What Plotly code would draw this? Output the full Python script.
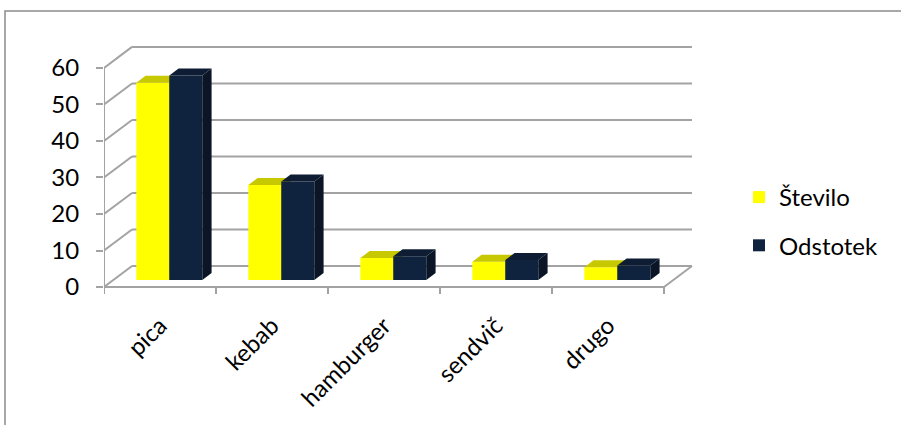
import plotly.graph_objects as go

categories = ["pica", "kebab", "hamburger", "sendvič", "drugo"]
stevilo = [54, 26, 6, 5, 3.5]
odstotek = [56, 27, 6.5, 5.5, 4]
series_names = ["Število", "Odstotek"]
y_ticks = [0, 10, 20, 30, 40, 50, 60]

front_colors = ["#FFFF00", "#10233E"]
top_colors = ["#C8C800", "#0E1D33"]
side_colors = ["#B0B000", "#0A1526"]

FONT = "Lato"
GRID = "#A3A3A3"

# geometry (axis units)
BW = 33 / 112          # bar width
DXW, DYW = 0.25, 5.75  # wall depth offset
DXB, DYB = 0.083, 1.92 # bar front offset / bar depth

fig = go.Figure()
axes = [("x", "y"), ("x2", "y2")]
n = len(categories)
for s, vals in enumerate([stevilo, odstotek]):
    xa, ya = axes[s]
    xs = [i - BW / 2 + s * BW + DXB for i in range(n)]
    fig.add_trace(go.Bar(
        x=xs, y=vals, base=[DYB] * n, width=BW, name=series_names[s],
        marker=dict(color=front_colors[s], line=dict(width=0)),
        xaxis=xa, yaxis=ya, legendgroup=str(s), hoverinfo="skip"))
    for i, v in enumerate(vals):
        xl, xr = xs[i] - BW / 2, xs[i] + BW / 2
        b, t = DYB, v + DYB
        fig.add_trace(go.Scatter(
            x=[xr, xr + DXB, xr + DXB, xr, xr], y=[b, b + DYB, t + DYB, t, b],
            fill="toself", fillcolor=side_colors[s], mode="lines",
            line=dict(width=0, color=side_colors[s]), showlegend=False,
            xaxis=xa, yaxis=ya, hoverinfo="skip"))
        fig.add_trace(go.Scatter(
            x=[xl, xr, xr + DXB, xl + DXB, xl], y=[t, t, t + DYB, t + DYB, t],
            fill="toself", fillcolor=top_colors[s], mode="lines",
            line=dict(width=0, color=top_colors[s]), showlegend=False,
            xaxis=xa, yaxis=ya, hoverinfo="skip"))

shapes = []
x0, x1 = -0.5, n - 0.5
for v in y_ticks:
    shapes.append(dict(type="line", xref="x", yref="y", x0=x0 + DXW, y0=v + DYW,
                       x1=x1 + DXW, y1=v + DYW, line=dict(color=GRID, width=2), layer="below"))
    shapes.append(dict(type="line", xref="x", yref="y", x0=x0, y0=v,
                       x1=x0 + DXW, y1=v + DYW, line=dict(color=GRID, width=2), layer="below"))
# floor
shapes.append(dict(type="line", xref="x", yref="y", x0=x0, y0=0, x1=x1, y1=0,
                   line=dict(color=GRID, width=2), layer="below"))
shapes.append(dict(type="line", xref="x", yref="y", x0=x1, y0=0, x1=x1 + DXW, y1=DYW,
                   line=dict(color=GRID, width=2), layer="below"))
# y axis line
shapes.append(dict(type="line", xref="x", yref="y", x0=x0, y0=0, x1=x0, y1=max(y_ticks),
                   line=dict(color=GRID, width=2), layer="below"))
# category boundary ticks
for k in range(n + 1):
    shapes.append(dict(type="line", xref="x", yref="y", x0=x0 + k, y0=0, x1=x0 + k, y1=-1.9,
                       line=dict(color=GRID, width=2), layer="below"))
# outer border
shapes.append(dict(type="rect", xref="paper", yref="paper",
                   x0=(5 - 104) / 592, y0=(298 - 440) / 252, x1=(910 - 104) / 592, y1=(298 - 11) / 252,
                   line=dict(color="#8C8C8C", width=1.5), layer="below"))

fig.update_layout(
    width=901, height=425,
    margin=dict(l=104, r=205, t=46, b=127),
    paper_bgcolor="white", plot_bgcolor="rgba(0,0,0,0)",
    font=dict(family=FONT, size=24, color="#000000"),
    showlegend=True,
    legend=dict(x=(739 - 104) / 592, y=(298 - 175) / 252, xanchor="left", yanchor="top",
                tracegroupgap=14, font=dict(family=FONT, size=24, color="#000000"),
                bgcolor="rgba(0,0,0,0)"),
    shapes=shapes,
    xaxis=dict(range=[-0.5, -0.5 + 592 / 112], tickvals=list(range(n)), ticktext=categories,
               tickangle=-45, showgrid=False, zeroline=False, showline=False, ticks="",
               ticklabelstandoff=8),
    yaxis=dict(range=[-3, 66], tickvals=y_ticks, showgrid=False, zeroline=False, showline=False,
               ticks="outside", ticklen=7, tickwidth=2, tickcolor=GRID, ticklabelstandoff=12),
    xaxis2=dict(overlaying="x", matches="x", visible=False),
    yaxis2=dict(overlaying="y", matches="y", visible=False),
)

fig.write_html("out.html")
